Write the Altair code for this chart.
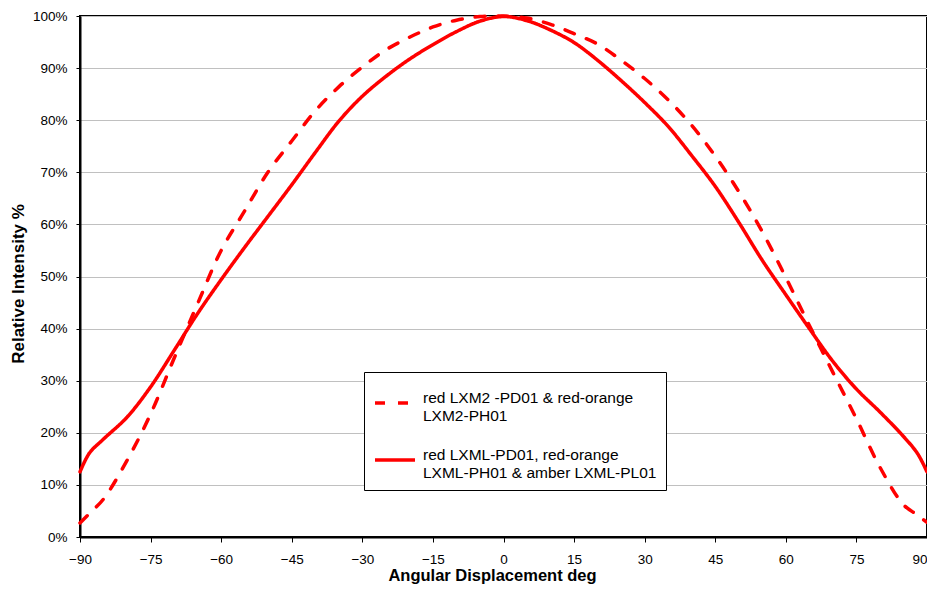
import altair as alt
import pandas as pd

angles = [-90, -88, -85, -80, -75, -70, -65, -60, -55, -50, -45, -40, -35, -30, -25, -20, -15, -10, -5, 0,
          5, 10, 15, 20, 25, 30, 35, 40, 45, 50, 55, 60, 65, 70, 75, 80, 85, 88, 90]
lxm2 = [2.7, 4.5, 7.3, 14.7, 23.6, 34.3, 44.8, 55.0, 62.6, 70.1, 76.0, 81.8, 86.4, 90.2, 93.5, 95.9, 97.9, 99.2, 99.9, 100,
        99.6, 98.4, 96.6, 94.6, 91.5, 88.0, 83.9, 79.0, 73.1, 66.3, 58.6, 49.8, 40.6, 31.6, 22.7, 13.4, 6.2, 4.2, 2.8]
lxml = [12.5, 16.1, 18.8, 23.0, 28.8, 35.8, 42.9, 49.4, 55.6, 61.6, 67.6, 73.8, 79.8, 84.6, 88.4, 91.7, 94.5, 97.0, 99.0, 99.9,
        99.1, 97.3, 94.9, 91.5, 87.6, 83.4, 78.8, 73.2, 67.3, 60.4, 53.1, 46.5, 40.0, 33.7, 28.4, 24.0, 19.3, 16.0, 12.5]
series_names = ["red LXM2 -PD01 & red-orange|LXM2-PH01",
                "red LXML-PD01, red-orange|LXML-PH01 & amber LXML-PL01"]
x_ticks = list(range(-90, 91, 15))
y_ticks = list(range(0, 101, 10))

rows = []
for a, v in zip(angles, lxm2):
    rows.append({"angle": a, "value": v, "series": series_names[0]})
for a, v in zip(angles, lxml):
    rows.append({"angle": a, "value": v, "series": series_names[1]})
df = pd.DataFrame(rows)

FONT = "Liberation Sans"

chart = alt.Chart(df).mark_line(
    color="#ff0000", strokeWidth=3.5, interpolate="catmull-rom", strokeCap="round"
).encode(
    x=alt.X("angle:Q",
            scale=alt.Scale(domain=[-90, 90], nice=False, zero=False),
            axis=alt.Axis(values=x_ticks, title="Angular Displacement deg", grid=False,
                          labelFlush=False,
                          labelAlign={"condition": {"test": "datum.value == 90", "value": "right"},
                                      "value": "center"},
                          tickSize=5, labelPadding=10, labelFontSize=13.5,
                          titleFontSize=16.5, titleFontWeight="bold",
                          titleY=43, titleBaseline="alphabetic", titleX=412)),
    y=alt.Y("value:Q",
            scale=alt.Scale(domain=[0, 100], nice=False),
            axis=alt.Axis(values=y_ticks, labelExpr="datum.value + '%'",
                          title="Relative Intensity %", grid=True, labelFlush=False,
                          tickSize=4, labelPadding=9, labelFontSize=13.5,
                          titleFontSize=17, titleFontWeight="bold",
                          titleX=-56.5, titleY=267.5, titleBaseline="alphabetic")),
    strokeDash=alt.StrokeDash("series:N",
                              scale=alt.Scale(domain=series_names, range=[[10, 13], [1, 0]]),
                              legend=alt.Legend(title=None, orient="none", legendX=284, legendY=356,
                                                fillColor="white", strokeColor="black", padding=9,
                                                symbolType="stroke", symbolSize=1600,
                                                symbolStrokeWidth=3.5, symbolStrokeColor="#ff0000",
                                                labelFont=FONT, labelFontSize=15.5,
                                                labelLimit=400, labelColor="black",
                                                labelExpr="split(datum.label, '|')",
                                                labelBaseline="alphabetic", rowPadding=14, labelOffset=6)),
).properties(
    width=847, height=521, autosize="none",
    padding={"left": 72, "top": 8, "right": 0, "bottom": 48},
).configure_view(
    stroke="black", strokeWidth=2
).configure_axis(
    labelFont=FONT, titleFont=FONT, labelColor="black", titleColor="black",
    domainColor="black", domainWidth=2, tickColor="black", gridColor="#c0c0c0", gridWidth=1
)

chart.save("out.html", embed_options={"renderer": "svg", "actions": False})
